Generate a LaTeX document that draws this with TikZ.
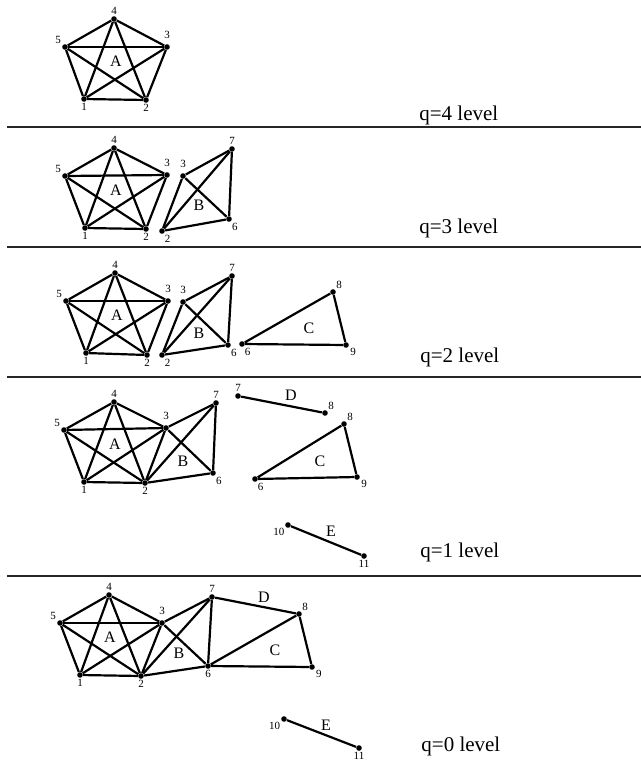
\documentclass[tikz,border=0pt]{standalone}
\usepackage{fontspec}
\setmainfont{Liberation Serif}
\tikzset{
  vtx/.style={circle, fill=black, inner sep=0pt, minimum size=2.8pt},
  num/.style={font=\fontsize{5.5}{6.5}\selectfont, inner sep=0.5pt},
  edge/.style={line width=1.1pt},
  part/.style={font=\fontsize{8}{9}\selectfont},
  lvl/.style={font=\fontsize{10.5}{12}\selectfont, anchor=west, inner sep=0pt},
  sep/.style={line width=1pt, black!85}
}

\begin{document}
\begin{tikzpicture}[x=0.5pt, y=-0.5pt, every label/.style={num}, label distance=0pt]
\useasboundingbox (0,0) rectangle (641,771);

% q=4 level
\node[vtx, label=above:4] (q4v4) at (114,19) {};
\node[vtx, label={[label distance=2pt]above:3}] (q4v3) at (167,47) {};
\node[vtx, label=150:5] (q4v5) at (65,47) {};
\node[vtx, label=below:1] (q4v1) at (84,99) {};
\node[vtx, label=below:2] (q4v2) at (146,100) {};
\node[part] (q4A) at (116,61) {A};
\node[lvl] (q4lvl) at (419,115) {q=4 level};
\draw[sep] (7,127) -- (641,127);

% q=3 level
\node[vtx, label=above:4] (q3v4) at (114,148) {};
\node[vtx, label={[label distance=2pt]above:3}] (q3v3) at (167,175) {};
\node[vtx, label=150:5] (q3v5) at (65,176) {};
\node[vtx, label=below:1] (q3v1) at (85,228) {};
\node[vtx, label=below:2] (q3v2) at (146,229) {};
\node[vtx, label={[label distance=2pt]above:3}] (q3b3) at (183,176) {};
\node[vtx, label=above:7] (q3b7) at (232,149) {};
\node[vtx, label=-60:6] (q3b6) at (229,219) {};
\node[vtx, label=-65:2] (q3b2) at (162,231) {};
\node[part] (q3A) at (116,190) {A};
\node[part] (q3B) at (199,205) {B};
\node[lvl] (q3lvl) at (419,228) {q=3 level};
\draw[sep] (7,247) -- (641,247);

% q=2 level
\node[vtx, label=above:4] (q2v4) at (115,273) {};
\node[vtx, label={[label distance=2pt]above:3}] (q2v3) at (168,301) {};
\node[vtx, label=150:5] (q2v5) at (66,301) {};
\node[vtx, label=below:1] (q2v1) at (86,353) {};
\node[vtx, label=below:2] (q2v2) at (147,355) {};
\node[vtx, label={[label distance=2pt]above:3}] (q2b3) at (183,302) {};
\node[vtx, label=above:7] (q2b7) at (232,276) {};
\node[vtx, label=-60:6] (q2b6) at (228,345) {};
\node[vtx, label=-65:2] (q2b2) at (162,355) {};
\node[vtx, label=-65:6] (q2c6) at (242,344) {};
\node[vtx, label=50:8] (q2c8) at (333,292) {};
\node[vtx, label=-25:9] (q2c9) at (346,345) {};
\node[part] (q2A) at (117,315) {A};
\node[part] (q2B) at (199,333) {B};
\node[part] (q2C) at (309,328) {C};
\node[lvl] (q2lvl) at (420,357) {q=2 level};
\draw[sep] (7,377) -- (641,377);

% q=1 level
\node[vtx, label=above:4] (q1v4) at (114,402) {};
\node[vtx, label={[label distance=2pt]above:3}] (q1v3) at (166,428) {};
\node[vtx, label=150:5] (q1v5) at (64,430) {};
\node[vtx, label=below:1] (q1v1) at (84,482) {};
\node[vtx, label=below:2] (q1v2) at (145,483) {};
\node[vtx, label=above:7] (q1v7) at (216,403) {};
\node[vtx, label=-60:6] (q1v6) at (213,473) {};
\node[vtx, label=above:7] (q1d7) at (238,396) {};
\node[vtx, label=50:8] (q1d8) at (325,413) {};
\node[vtx, label=50:8] (q1c8) at (344,424) {};
\node[vtx, label=-65:6] (q1c6) at (255,479) {};
\node[vtx, label=-25:9] (q1c9) at (357,477) {};
\node[vtx, label=-135:10] (q1e10) at (288,525) {};
\node[vtx, label=below:11] (q1e11) at (364,556) {};
\node[part] (q1A) at (115,444) {A};
\node[part] (q1B) at (183,461) {B};
\node[part] (q1C) at (320,461) {C};
\node[part] (q1D) at (291,395) {D};
\node[part] (q1E) at (331,531) {E};
\node[lvl] (q1lvl) at (420,552) {q=1 level};
\draw[sep] (7,576) -- (641,576);

% q=0 level
\node[vtx, label=above:4] (q0v4) at (109,595) {};
\node[vtx, label={[label distance=2pt]above:3}] (q0v3) at (162,623) {};
\node[vtx, label=150:5] (q0v5) at (60,623) {};
\node[vtx, label=below:1] (q0v1) at (80,675) {};
\node[vtx, label=below:2] (q0v2) at (141,676) {};
\node[vtx, label=above:7] (q0v7) at (212,597) {};
\node[vtx, label=below:6] (q0v6) at (208,666) {};
\node[vtx, label=50:8] (q0v8) at (299,614) {};
\node[vtx, label=-30:9] (q0v9) at (312,667) {};
\node[vtx, label=-140:10] (q0v10) at (284,719) {};
\node[vtx, label=below:11] (q0v11) at (359,748) {};
\node[part] (q0A) at (110,637) {A};
\node[part] (q0B) at (179,653) {B};
\node[part] (q0C) at (275,650) {C};
\node[part] (q0D) at (264,597) {D};
\node[part] (q0E) at (326,725) {E};
\node[lvl] (q0lvl) at (421,746) {q=0 level};

% A is complete on 1..5 at every level
\foreach \p in {q4,q3,q2,q1,q0}
  \foreach \i/\j in {1/2,1/3,1/4,1/5,2/3,2/4,2/5,3/4,3/5,4/5}
    \draw[edge] (\p v\i) -- (\p v\j);

% B on its own
\foreach \p in {q3,q2}
  \foreach \i/\j in {2/3,2/6,2/7,3/6,3/7,6/7}
    \draw[edge] (\p b\i) -- (\p b\j);
% B merged with A
\foreach \p in {q1,q0}
  \foreach \i/\j in {2/6,2/7,3/6,3/7,6/7}
    \draw[edge] (\p v\i) -- (\p v\j);

% C, D and E
\draw[edge] (q2c6) -- (q2c8) -- (q2c9) -- (q2c6);
\draw[edge] (q1c6) -- (q1c8) -- (q1c9) -- (q1c6);
\draw[edge] (q1d7) -- (q1d8);
\draw[edge] (q1e10) -- (q1e11);
\draw[edge] (q0v6) -- (q0v8) -- (q0v9) -- (q0v6);
\draw[edge] (q0v7) -- (q0v8);
\draw[edge] (q0v10) -- (q0v11);
\end{tikzpicture}
\end{document}
